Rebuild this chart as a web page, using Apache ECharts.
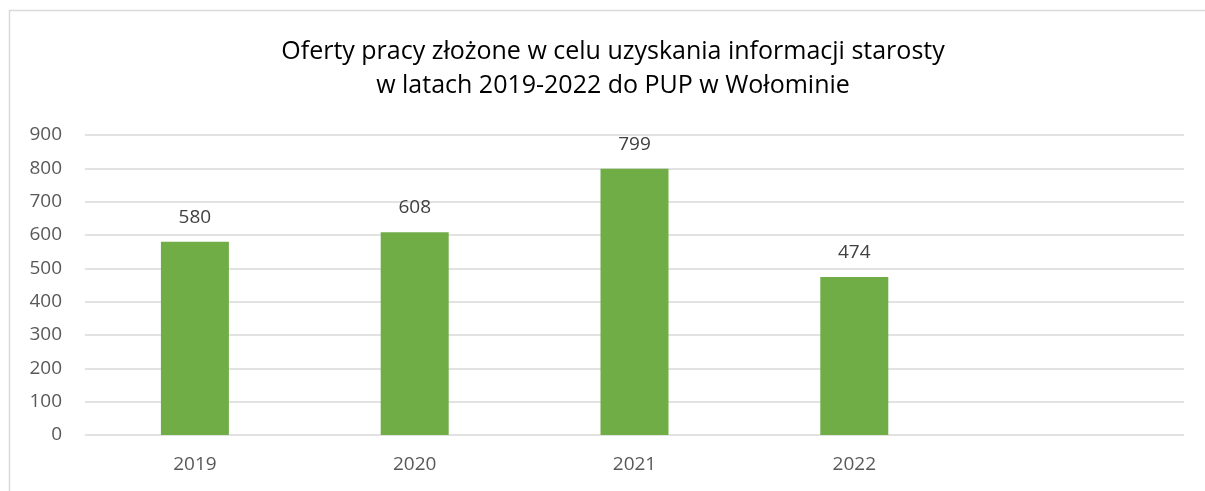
<!DOCTYPE html>
<html>
<head>
<meta charset="utf-8">
<script src="https://cdn.jsdelivr.net/npm/echarts@6/dist/echarts.min.js"></script>
<style>
html, body { margin: 0; padding: 0; background: #fff; }
#chart { width: 1205px; height: 491px; }
</style>
</head>
<body>
<div id="chart"></div>
<script>
var titleText = 'Oferty pracy złożone w celu uzyskania informacji starosty\nw latach 2019-2022 do PUP w Wołominie';
var years = ['2019', '2020', '2021', '2022', ''];
var offers = [580, 608, 799, 474, null];
var yTicks = { min: 0, max: 900, step: 100 };

var chart = echarts.init(document.getElementById('chart'));
var font = '"Open Sans", "Noto Sans", sans-serif';

chart.setOption({
	animation: false,
	title: {
		text: titleText,
		left: 608,
		top: 30,
		textAlign: 'center',
		textStyle: {
			fontFamily: font,
			fontSize: 25,
			fontWeight: 'normal',
			color: '#000',
			lineHeight: 34
		}
	},
	graphic: [{
		type: 'rect',
		shape: { x: 9.5, y: 10.5, width: 1300, height: 600 },
		style: { fill: 'none', stroke: '#d9d9d9', lineWidth: 1.5 },
		silent: true
	}],
	grid: {
		left: 85,
		right: 21,
		top: 135,
		bottom: 56
	},
	xAxis: {
		type: 'category',
		data: years,
		axisLine: { show: false },
		axisTick: { show: false },
		axisLabel: {
			fontFamily: font,
			fontSize: 19,
			color: '#595959',
			margin: 20
		}
	},
	yAxis: {
		type: 'value',
		min: yTicks.min,
		max: yTicks.max,
		interval: yTicks.step,
		axisLine: { show: false },
		axisTick: { show: false },
		splitLine: { lineStyle: { color: '#d9d9d9', width: 1.5 } },
		axisLabel: {
			fontFamily: font,
			fontSize: 19,
			color: '#595959',
			margin: 23
		}
	},
	series: [{
		type: 'bar',
		data: offers,
		barWidth: 68,
		itemStyle: { color: '#70ad47' },
		label: {
			show: true,
			position: 'top',
			distance: 15,
			fontFamily: font,
			fontSize: 19,
			color: '#404040'
		}
	}]
});
</script>
</body>
</html>
